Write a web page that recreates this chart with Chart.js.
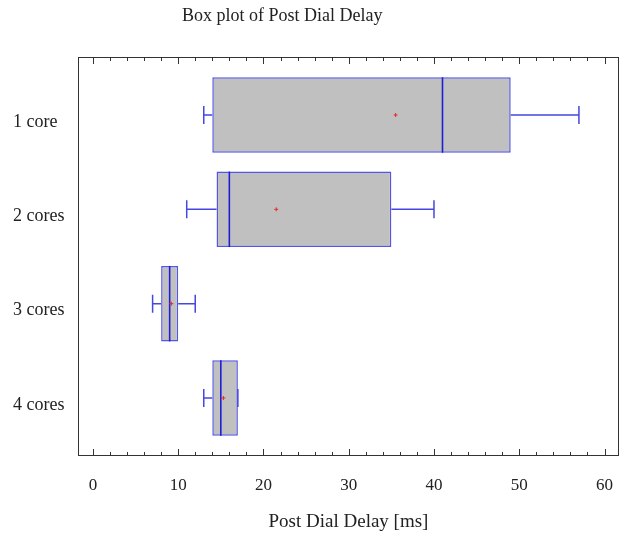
<!DOCTYPE html>
<html>
<head>
<meta charset="utf-8">
<script src="https://cdn.jsdelivr.net/npm/chart.js@4"></script>
<style>
  body { margin: 0; background: #fff; }
  #wrap { position: relative; width: 624px; height: 533px; }
  #title { position: absolute; left: 182px; top: 5px; font: 18px "Liberation Serif", serif; color: #222; }
</style>
</head>
<body>
<div id="wrap">
  <div id="title">Box plot of Post Dial Delay</div>
  <canvas id="myChart" width="624" height="533"></canvas>
</div>
<script>
// categorias y valores del box plot
var categories = ['1 core', '2 cores', '3 cores', '4 cores'];
var whiskerLow  = [13, 11, 7, 13];
var q1          = [14, 14.5, 8, 14];
var median      = [41, 16, 9, 15];
var q3          = [49, 35, 10, 17];
var whiskerHigh = [57, 40, 12, 17];
var means       = [35.5, 21.5, 9.2, 15.3];
var xTickLabels = [0, 10, 20, 30, 40, 50, 60];

var serif = '"Liberation Serif", "Times New Roman", serif';
Chart.defaults.font.family = serif;
Chart.defaults.color = '#222';

// cajas como barras flotantes
var boxes = categories.map(function (c, i) {
    return { y: i + 1, x: [q1[i], q3[i]] };
});

// bigotes, medianas, medias y marco
var boxPlugin = {
    id: 'boxExtras',
    afterDatasetsDraw: function (chart) {
        var ctx = chart.ctx;
        var xs = chart.scales.x, ys = chart.scales.y;
        var meta = chart.getDatasetMeta(0);
        ctx.save();
        categories.forEach(function (c, i) {
            var y = ys.getPixelForValue(i + 1);
            var half = meta.data[i].height / 2;
            var cap = 9;
            ctx.strokeStyle = 'rgb(70,70,225)';
            ctx.lineWidth = 1.5;
            ctx.beginPath();
            ctx.moveTo(xs.getPixelForValue(whiskerLow[i]), y);
            ctx.lineTo(xs.getPixelForValue(q1[i]), y);
            ctx.moveTo(xs.getPixelForValue(q3[i]), y);
            ctx.lineTo(xs.getPixelForValue(whiskerHigh[i]), y);
            ctx.moveTo(xs.getPixelForValue(whiskerLow[i]), y - cap);
            ctx.lineTo(xs.getPixelForValue(whiskerLow[i]), y + cap);
            ctx.moveTo(xs.getPixelForValue(whiskerHigh[i]), y - cap);
            ctx.lineTo(xs.getPixelForValue(whiskerHigh[i]), y + cap);
            ctx.stroke();
            // mediana
            ctx.strokeStyle = 'rgb(30,30,215)';
            ctx.lineWidth = 1.6;
            ctx.beginPath();
            ctx.moveTo(xs.getPixelForValue(median[i]), y - half);
            ctx.lineTo(xs.getPixelForValue(median[i]), y + half);
            ctx.stroke();
            // media
            var mx = xs.getPixelForValue(means[i]);
            ctx.strokeStyle = 'rgb(230,40,40)';
            ctx.lineWidth = 1;
            ctx.beginPath();
            ctx.moveTo(mx - 2, y); ctx.lineTo(mx + 2, y);
            ctx.moveTo(mx, y - 2); ctx.lineTo(mx, y + 2);
            ctx.stroke();
        });
        // marco y ticks hacia dentro
        var a = chart.chartArea;
        ctx.strokeStyle = '#333';
        ctx.lineWidth = 1;
        ctx.strokeRect(a.left + 0.5, a.top + 0.5, a.right - a.left - 1, a.bottom - a.top - 1);
        ctx.beginPath();
        xs.ticks.forEach(function (t) {
            var px = Math.round(xs.getPixelForValue(t.value)) + 0.5;
            var len = t.value % 10 === 0 ? 7 : 4;
            ctx.moveTo(px, a.bottom); ctx.lineTo(px, a.bottom - len);
            ctx.moveTo(px, a.top); ctx.lineTo(px, a.top + len);
        });
        ctx.stroke();
        ctx.restore();
    }
};

var ctx = document.getElementById('myChart');
var myChart = new Chart(ctx, {
    type: 'bar',
    data: {
        datasets: [{
            data: boxes,
            backgroundColor: '#c0c0c0',
            borderColor: 'rgb(85,85,230)',
            borderWidth: 1.5,
            borderSkipped: false,
            categoryPercentage: 0.8,
            barPercentage: 1
        }]
    },
    options: {
        indexAxis: 'y',
        responsive: false,
        animation: false,
        layout: { padding: { left: 13, top: 57, right: 5, bottom: 0 } },
        plugins: { legend: { display: false }, tooltip: { enabled: false } },
        scales: {
            x: {
                type: 'linear',
                min: -1.75,
                max: 61.7,
                grid: { display: false },
                border: { display: false },
                afterBuildTicks: function (scale) {
                    var t = [];
                    for (var v = 0; v <= 60; v += 2) t.push({ value: v });
                    scale.ticks = t;
                },
                afterFit: function (scale) {
                    scale.height = 77;
                    scale.paddingLeft = 0;
                    scale.paddingRight = 0;
                },
                ticks: {
                    autoSkip: false,
                    maxRotation: 0,
                    padding: 11,
                    font: { size: 17 },
                    callback: function (v) {
                        return xTickLabels.indexOf(v) >= 0 ? String(v) : '';
                    }
                },
                title: {
                    display: true,
                    text: 'Post Dial Delay [ms]',
                    font: { size: 19 },
                    padding: { top: 4, bottom: 0 }
                }
            },
            y: {
                type: 'linear',
                reverse: true,
                offset: false,
                min: 0.385,
                max: 4.615,
                grid: { display: false, offset: false },
                border: { display: false },
                afterBuildTicks: function (scale) {
                    scale.ticks = categories.map(function (c, i) { return { value: i + 1 }; });
                },
                afterFit: function (scale) {
                    scale.width = 65;
                    scale.paddingTop = 0;
                    scale.paddingBottom = 0;
                },
                ticks: {
                    crossAlign: 'far',
                    labelOffset: 7,
                    font: { size: 18 },
                    callback: function (v) { return categories[v - 1]; }
                }
            }
        }
    },
    plugins: [boxPlugin]
});
</script>
</body>
</html>
